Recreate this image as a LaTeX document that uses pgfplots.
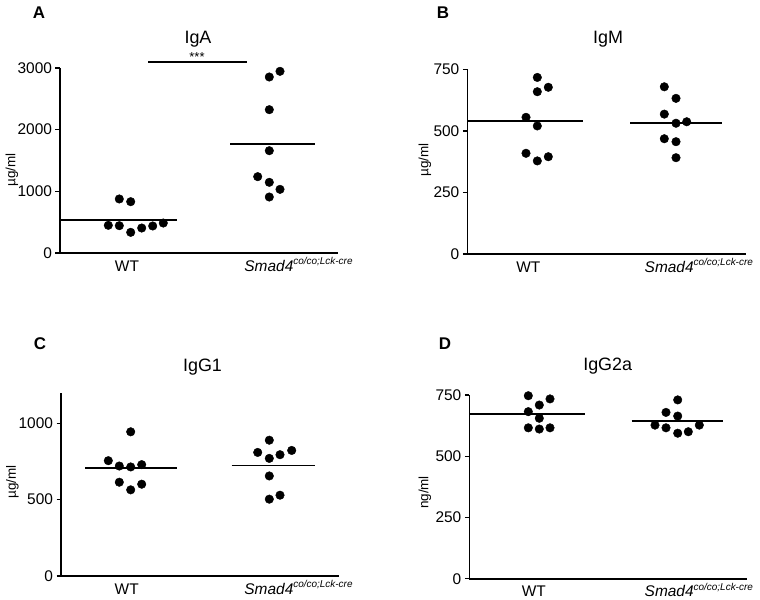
\documentclass[border=0pt]{standalone}
\usepackage{fontspec}
\setmainfont{Liberation Sans}
\usepackage{pgfplots}
\pgfplotsset{compat=1.18}
\newcommand{\smad}{\textit{Smad4}\raisebox{0.42em}{\fontsize{10}{10}\selectfont\itshape co/co;Lck-cre}}
\pgfplotsset{
  panel/.style={
    scale only axis, anchor=south west, clip=false,
    xmin=0, ymin=0,
    axis x line*=bottom, axis y line*=left,
    axis line style={line width=1.6bp, black, -},
    tick align=outside, major tick length=4.5bp,
    ytick style={line width=1.3bp, black},
    xtick style={draw=none},
    tick label style={font=\fontsize{15.5}{16}\selectfont, black},
    /pgf/number format/assume math mode=true,
    /pgf/number format/1000 sep={},
    x tick label style={text height=11bp, text depth=0bp, yshift=1bp},
  },
  dots/.style={only marks, mark=*, mark size=4.3pt, black},
  mean/.style={black, line width=1.8bp, no marks},
}
\begin{document}
\begin{tikzpicture}
\path[use as bounding box] (0,0) rectangle (760bp,600bp);
% ---------------- A ----------------
\begin{axis}[panel, at={(60bp,347bp)}, width=278bp, height=185bp,
  xmax=278, ymax=3000, ytick={0,1000,2000,3000},
  xtick={67,238.5}, xticklabels={WT,\smad}]
\addplot[dots] coordinates {(59.3,876) (70.7,832) (48.3,449) (59.3,443) (70.7,335) (81.7,405) (92.7,438) (103.3,486)};
\addplot[mean] coordinates {(0,540) (117,540)};
\addplot[dots] coordinates {(209.3,2854) (220,2946) (209.3,2324) (209.3,1659) (197.7,1238) (209.3,1146) (220,1032) (209.3,908)};
\addplot[mean] coordinates {(170,1773) (255,1773)};
\draw[line width=1.8bp] (axis cs:88,3092) -- (axis cs:187,3092);
\node[font=\fontsize{13}{13}\selectfont, anchor=south, inner sep=0.5bp] at (axis cs:137,3092) {***};
\end{axis}
% ---------------- B ----------------
\begin{axis}[panel, at={(467.3bp,346bp)}, width=279bp, height=184.7bp,
  xmax=279, ymax=750, ytick={0,250,500,750},
  xtick={61,231.5}, xticklabels={WT,\smad}]
\addplot[dots] coordinates {(70,717) (70,659) (81,677) (58.7,555) (70,520) (58.7,409) (70,378) (81,395)};
\addplot[mean] coordinates {(1,540) (116,540)};
\addplot[dots] coordinates {(197,679) (208.7,632) (197,568) (208.7,531) (219.4,537) (197,468) (208.7,456) (208.7,391)};
\addplot[mean] coordinates {(162.7,533) (254.4,533)};
\end{axis}
% ---------------- C ----------------
\begin{axis}[panel, at={(61bp,24bp)}, width=278bp, height=183.3bp,
  xmax=278, ymax=1200, ytick={0,500,1000},
  xtick={65.7,237.5}, xticklabels={WT,\smad}]
\addplot[dots] coordinates {(69.7,944) (47.3,755) (58.3,720) (69.7,714) (80.7,729) (58.3,614) (80.7,601) (69.7,564)};
\addplot[mean] coordinates {(24,705) (116,705)};
\addplot[dots] coordinates {(208.3,889) (196.7,809) (208.3,770) (219,794) (230.7,822) (208.3,655) (219,529) (208.3,503)};
\addplot[mean] coordinates {(170.7,724) (254,724)};
\end{axis}
% ---------------- D ----------------
\begin{axis}[panel, at={(469.3bp,21.3bp)}, width=278bp, height=183.7bp,
  xmax=278, ymax=750, ytick={0,250,500,750},
  xtick={64.5,229.5}, xticklabels={WT,\smad}]
\addplot[dots] coordinates {(59,747) (80.7,734) (70,709) (59,682) (70,655) (59,616) (70,611) (80.7,616)};
\addplot[mean] coordinates {(0,672) (115.7,672)};
\addplot[dots] coordinates {(208.4,730) (196.7,679) (208.4,664) (185.7,627) (196.7,616) (230,627) (208.4,594) (219,600)};
\addplot[mean] coordinates {(162.4,643) (254,643)};
\end{axis}
% ---------------- titles, labels ----------------
\node[font=\fontsize{18}{20}\selectfont] at (198bp,561bp) {IgA};
\node[font=\fontsize{18}{20}\selectfont] at (608bp,561bp) {IgM};
\node[font=\fontsize{18}{20}\selectfont] at (202.5bp,232.5bp) {IgG1};
\node[font=\fontsize{18}{20}\selectfont] at (607.7bp,234bp) {IgG2a};
\node[font=\fontsize{17}{18}\selectfont\bfseries] at (39bp,587bp) {A};
\node[font=\fontsize{17}{18}\selectfont\bfseries] at (443bp,587bp) {B};
\node[font=\fontsize{17}{18}\selectfont\bfseries] at (40bp,256.7bp) {C};
\node[font=\fontsize{17}{18}\selectfont\bfseries] at (445bp,256.7bp) {D};
\node[font=\fontsize{13.5}{14}\selectfont, rotate=90] at (12bp,430bp) {µg/ml};
\node[font=\fontsize{13.5}{14}\selectfont, rotate=90] at (425bp,440bp) {µg/ml};
\node[font=\fontsize{13.5}{14}\selectfont, rotate=90] at (12.5bp,118bp) {µg/ml};
\node[font=\fontsize{13.5}{14}\selectfont, rotate=90] at (425bp,107.5bp) {ng/ml};
\end{tikzpicture}
\end{document}
